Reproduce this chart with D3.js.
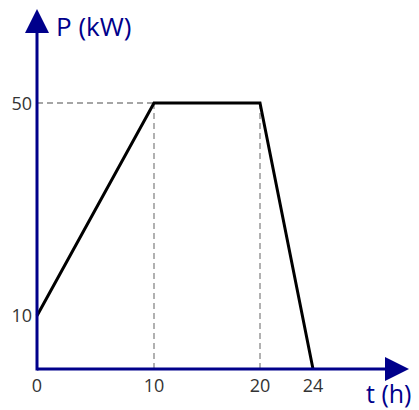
<!DOCTYPE html>
<html lang="en">
<head>
    <meta charset="UTF-8">
    <title>P (kW) over t (h)</title>
    <script src="https://d3js.org/d3.v7.min.js"></script>
    <style>
        body {
            margin: 0;
            background-color: #fff;
            font-family: 'Open Sans', 'Noto Sans', sans-serif;
        }

        svg {
            display: block;
        }
    </style>
</head>
<body>
    <svg id="chart" width="419" height="410"></svg>

    <script>
        // profile points
        const hours = [0, 10, 20, 24];
        const power = [10, 50, 50, 0];
        const xTicks = [0, 10, 20, 24];
        const yTicks = [10, 50];

        const drawChart = () => {
            const svg = d3.select("#chart");
            const axisColor = "#00008b";

            // the drawing is schematic: hours are not evenly spaced
            const x = d3.scaleLinear()
                .domain([0, 10, 20, 24])
                .range([37, 154, 260, 313]);

            const y = d3.scaleLinear()
                .domain([0, 50])
                .range([369, 103]);

            const points = hours.map((h, i) => ({ t: h, p: power[i] }));

            // dashed guides
            const peak = points.filter(d => d.p === 50);
            svg.append("line")
                .attr("x1", x(0))
                .attr("x2", x(peak[0].t))
                .attr("y1", y(50))
                .attr("y2", y(50))
                .attr("stroke", "#888")
                .attr("stroke-width", 1.3)
                .attr("stroke-dasharray", "6,4");

            svg.selectAll("line.vguide")
                .data(peak)
                .join("line")
                .attr("class", "vguide")
                .attr("x1", d => x(d.t))
                .attr("x2", d => x(d.t))
                .attr("y1", d => y(d.p))
                .attr("y2", y(0))
                .attr("stroke", "#888")
                .attr("stroke-width", 1.3)
                .attr("stroke-dasharray", "6,4");

            // profile line
            const line = d3.line()
                .x(d => x(d.t))
                .y(d => y(d.p));

            svg.append("path")
                .datum(points)
                .attr("d", line)
                .attr("fill", "none")
                .attr("stroke", "#000")
                .attr("stroke-width", 3)
                .attr("stroke-linejoin", "miter");

            // axes
            svg.append("line")
                .attr("x1", x(0))
                .attr("x2", 388)
                .attr("y1", y(0))
                .attr("y2", y(0))
                .attr("stroke", axisColor)
                .attr("stroke-width", 3);

            svg.append("line")
                .attr("x1", x(0))
                .attr("x2", x(0))
                .attr("y1", y(0) + 1.5)
                .attr("y2", 30)
                .attr("stroke", axisColor)
                .attr("stroke-width", 3);

            svg.append("path")
                .attr("d", `M${x(0)},9 L${x(0) + 12},33 L${x(0) - 12},33 Z`)
                .attr("fill", axisColor);

            svg.append("path")
                .attr("d", `M409,${y(0)} L385,${y(0) - 12} L385,${y(0) + 12} Z`)
                .attr("fill", axisColor);

            // tick labels
            svg.selectAll("text.xtick")
                .data(xTicks)
                .join("text")
                .attr("class", "xtick")
                .attr("x", d => x(d))
                .attr("y", 392)
                .attr("text-anchor", "middle")
                .attr("font-size", 18)
                .attr("fill", "#333")
                .text(d => d);

            svg.selectAll("text.ytick")
                .data(yTicks)
                .join("text")
                .attr("class", "ytick")
                .attr("x", 32)
                .attr("y", d => y(d) + 6.5)
                .attr("text-anchor", "end")
                .attr("font-size", 18)
                .attr("fill", "#333")
                .text(d => d);

            // axis titles
            svg.append("text")
                .attr("x", 56)
                .attr("y", 36)
                .attr("font-size", 26)
                .attr("fill", axisColor)
                .text("P (kW)");

            svg.append("text")
                .attr("x", 366)
                .attr("y", 403)
                .attr("font-size", 25)
                .attr("fill", axisColor)
                .text("t (h)");
        };
        drawChart();
    </script>
</body>
</html>
